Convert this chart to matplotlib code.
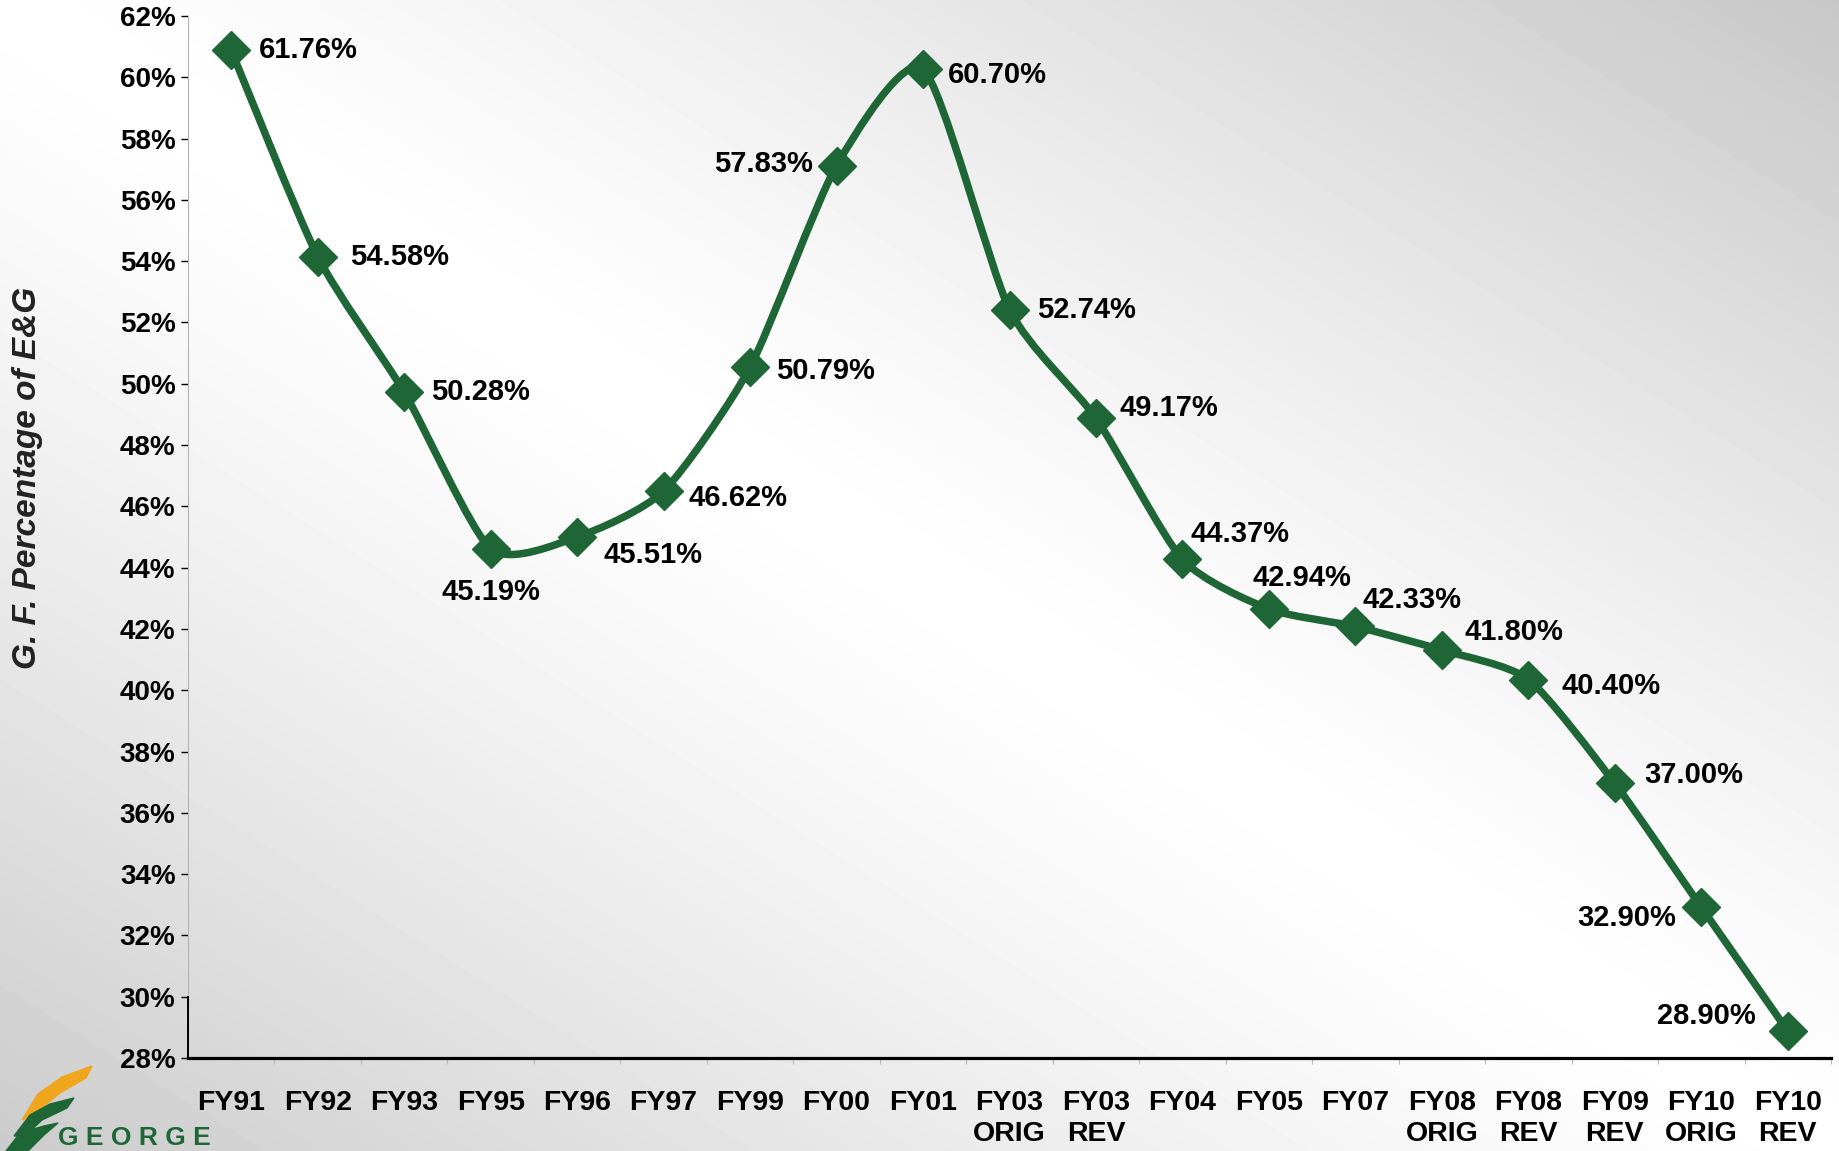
import numpy as np
import matplotlib
matplotlib.use('Agg')
from matplotlib import pyplot as plt
from matplotlib.path import Path
from matplotlib.patches import PathPatch, Polygon

plt.rcParams['font.family'] = ['Liberation Sans', 'DejaVu Sans']
plt.rcParams['font.weight'] = 'bold'

# chart data
categories = ['FY91', 'FY92', 'FY93', 'FY95', 'FY96', 'FY97', 'FY99', 'FY00', 'FY01',
              'FY03\nORIG', 'FY03\nREV', 'FY04', 'FY05', 'FY07', 'FY08\nORIG',
              'FY08\nREV', 'FY09\nREV', 'FY10\nORIG', 'FY10\nREV']
values = [60.88, 54.15, 49.73, 44.62, 45.00, 46.50, 50.54, 57.12, 60.27, 52.42,
          48.88, 44.27, 42.65, 42.08, 41.31, 40.35, 36.96, 32.92, 28.88]
labels = ['61.76%', '54.58%', '50.28%', '45.19%', '45.51%', '46.62%', '50.79%',
          '57.83%', '60.70%', '52.74%', '49.17%', '44.37%', '42.94%', '42.33%',
          '41.80%', '40.40%', '37.00%', '32.90%', '28.90%']
y_ticks = list(range(28, 63, 2))

# where each data label sits relative to its marker (points) and its alignment
label_place = [(20, 0, 'left'), (23, 0, 'left'), (19, 0, 'left'), (0, -31, 'center'),
               (19, -13, 'left'), (18, -5, 'left'), (19, -3, 'left'), (-17, 1, 'right'),
               (18, -4, 'left'), (20, 0, 'left'), (17, 7, 'left'), (6, 18, 'left'),
               (-12, 22, 'left'), (5, 19, 'left'), (16, 13, 'left'), (24, -5, 'left'),
               (21, 6, 'left'), (-18, -8, 'right'), (-23, 11, 'right')]

GREEN = '#1e6636'
W, H = 1839, 1151

fig = plt.figure(figsize=(W / 100, H / 100), dpi=100)

# background: white along the diagonal, grey towards top-right and bottom-left corners
bg = fig.add_axes([0, 0, 1, 1], zorder=-10)
u = np.linspace(0, 1, W)[None, :]
v = np.linspace(0, 1, H)[:, None]
d = u - v
shade = np.where(d > 0, 255 - 56 * np.abs(d) ** 1.25, 255 - 52 * np.abs(d) ** 1.25)
bg.imshow(shade, cmap='gray', vmin=0, vmax=255, aspect='auto', interpolation='bilinear')
bg.axis('off')

ax = fig.add_axes([188 / W, 1 - 1058 / H, (1831 - 188) / W, (1058 - 16) / H])
ax.set_facecolor('none')
ax.set_xlim(-0.5, len(categories) - 0.5)
ax.set_ylim(28, 62)

x = np.arange(len(values))


def smooth_path(xs, ys, k=9.0):
    # bezier curve through the points, like a spreadsheet "smoothed line"
    pts = np.column_stack([xs, ys]).astype(float)
    ext = np.vstack([pts[0], pts, pts[-1]])
    verts = [pts[0]]
    codes = [Path.MOVETO]
    for i in range(len(pts) - 1):
        p0, p1, p2, p3 = ext[i], ext[i + 1], ext[i + 2], ext[i + 3]
        verts += [p1 + (p2 - p0) / k, p2 - (p3 - p1) / k, p2]
        codes += [Path.CURVE4] * 3
    return Path(verts, codes)


ax.add_patch(PathPatch(smooth_path(x, values), fill=False, edgecolor=GREEN, lw=5.4,
                       capstyle='round', joinstyle='round', zorder=3))
ax.plot(x, values, linestyle='none', marker='D', markersize=19, color=GREEN,
        markeredgecolor=GREEN, markeredgewidth=1, zorder=4)

for xi, val, lab, (dx, dy, ha) in zip(x, values, labels, label_place):
    ax.annotate(lab, (xi, val), xytext=(dx, dy), textcoords='offset points',
                ha=ha, va='center', fontsize=21, fontweight='bold', zorder=5)

# axes styling
ax.spines['top'].set_visible(False)
ax.spines['right'].set_visible(False)
ax.spines['left'].set_color('#b4b4b4')
ax.spines['left'].set_linewidth(0.8)
ax.spines['bottom'].set_color('black')
ax.spines['bottom'].set_linewidth(2.3)
ax.plot([-0.5, -0.5], [28, 30], color='black', lw=1.4, clip_on=False, zorder=6)

ax.set_yticks(y_ticks)
ax.set_yticklabels([f'{t}%' for t in y_ticks])
ax.tick_params(axis='y', direction='out', length=5, width=1, color='black', pad=4,
               labelsize=20)

ax.set_xticks(x)
ax.set_xticklabels(categories, linespacing=1.25)
ax.set_xticks(np.arange(0.5, len(categories)), minor=True)
ax.tick_params(axis='x', which='major', length=0, pad=23, labelsize=20.5)
ax.tick_params(axis='x', which='minor', direction='out', length=4.5, width=0.8,
               color='#b8b8b8')

fig.text(28 / W, 1 - 478 / H, 'G. F. Percentage of E&G', rotation=90, ha='center',
         va='center', fontsize=24, fontstyle='italic', fontweight='bold', color='#222222')

# logo in the bottom-left corner
def px(points):
    return [(a / W, 1 - b / H) for a, b in points]

fig.patches.append(Polygon(px([(22, 1120), (38, 1094), (62, 1077), (92, 1066), (86, 1078),
                               (60, 1093), (34, 1114)]), closed=True, color='#efa51c',
                           transform=fig.transFigure, figure=fig))
fig.patches.append(Polygon(px([(14, 1136), (30, 1115), (50, 1104), (74, 1098), (67, 1108),
                               (42, 1120), (25, 1136)]), closed=True, color=GREEN,
                           transform=fig.transFigure, figure=fig))
fig.patches.append(Polygon(px([(6, 1151), (20, 1133), (44, 1126), (58, 1123), (44, 1135),
                               (28, 1151)]), closed=True, color=GREEN,
                           transform=fig.transFigure, figure=fig))
fig.text(58 / W, 1 - 1150 / H, 'G E O R G E', ha='left', va='bottom',
         fontsize=19, fontweight='bold', color=GREEN)

fig.savefig('out.png', dpi=100)
